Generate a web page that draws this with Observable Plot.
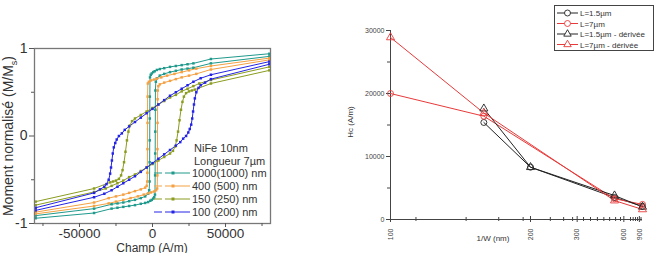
<!DOCTYPE html>
<html><head><meta charset="utf-8">
<script src="https://cdn.jsdelivr.net/npm/d3@7"></script>
<script src="https://cdn.jsdelivr.net/npm/@observablehq/plot@0.6"></script>
<style>
body{margin:0;background:#fff;}
#wrap{position:relative;width:655px;height:253px;overflow:hidden;font-family:"Liberation Sans",Arial,sans-serif;}
#left{position:absolute;left:0;top:0;}
#right{position:absolute;left:280px;top:0;}
</style></head>
<body><div id="wrap"><div id="left"></div><div id="right"></div></div>
<script>
// ================= LEFT PANEL DATA : hysteresis loops (H in A/m, M/Ms) =================
// upper branch: field decreasing ; lower branch: field increasing
const tealUp = [[80000,0.94],[40000,0.88],[28000,0.83],[24000,0.82],[20000,0.81],[16000,0.80],[12000,0.79],[8000,0.775],[5000,0.765],[3000,0.755],[1500,0.74],[500,0.73],[-500,0.715],[-1200,0.70],[-1700,0.67],[-1800,0.45],[-1850,0.20],[-1900,-0.05],[-1950,-0.30],[-2000,-0.52],[-2300,-0.62],[-3000,-0.66],[-5000,-0.69],[-8000,-0.71],[-12000,-0.73],[-16000,-0.745],[-20000,-0.76],[-24000,-0.77],[-28000,-0.78],[-40000,-0.83],[-80000,-0.91]];
const tealDown = [[-80000,-0.94],[-40000,-0.88],[-28000,-0.83],[-24000,-0.82],[-20000,-0.81],[-16000,-0.80],[-12000,-0.79],[-8000,-0.775],[-5000,-0.765],[-3000,-0.755],[-1500,-0.74],[-500,-0.73],[500,-0.715],[1200,-0.70],[1700,-0.67],[1800,-0.45],[1850,-0.20],[1900,0.05],[1950,0.30],[2000,0.52],[2300,0.62],[3000,0.66],[5000,0.69],[8000,0.71],[12000,0.73],[16000,0.745],[20000,0.76],[24000,0.77],[28000,0.78],[40000,0.83],[80000,0.91]];

const orangeUp = [[80000,0.89],[40000,0.80],[30000,0.77],[25000,0.75],[20000,0.73],[15000,0.71],[10000,0.69],[6000,0.67],[3000,0.655],[1000,0.645],[-1000,0.635],[-2500,0.62],[-3200,0.60],[-3350,0.45],[-3400,0.15],[-3450,-0.15],[-3500,-0.42],[-3600,-0.52],[-4000,-0.57],[-5000,-0.59],[-8000,-0.61],[-12000,-0.63],[-16000,-0.65],[-20000,-0.67],[-25000,-0.69],[-30000,-0.71],[-40000,-0.76],[-80000,-0.87]];
const orangeDown = [[-80000,-0.89],[-40000,-0.80],[-30000,-0.77],[-25000,-0.75],[-20000,-0.73],[-15000,-0.71],[-10000,-0.69],[-6000,-0.67],[-3000,-0.655],[-1000,-0.645],[1000,-0.635],[2500,-0.62],[3200,-0.60],[3350,-0.45],[3400,-0.15],[3450,0.15],[3500,0.42],[3600,0.52],[4000,0.57],[5000,0.59],[8000,0.61],[12000,0.63],[16000,0.65],[20000,0.67],[25000,0.69],[30000,0.71],[40000,0.76],[80000,0.87]];

const oliveUp = [[80000,0.79],[40000,0.64],[32000,0.60],[28000,0.57],[24000,0.54],[20000,0.51],[16000,0.47],[12000,0.44],[8000,0.40],[4000,0.36],[0,0.32],[-4000,0.28],[-8000,0.24],[-12000,0.20],[-14000,0.17],[-15500,0.12],[-16500,0.05],[-17500,-0.05],[-18500,-0.18],[-19500,-0.30],[-20500,-0.39],[-21500,-0.45],[-23000,-0.49],[-25000,-0.51],[-27000,-0.52],[-29000,-0.53],[-40000,-0.60],[-80000,-0.75]];
const oliveDown = [[-80000,-0.79],[-40000,-0.64],[-32000,-0.60],[-28000,-0.57],[-24000,-0.54],[-20000,-0.51],[-16000,-0.47],[-12000,-0.44],[-8000,-0.40],[-4000,-0.36],[0,-0.32],[4000,-0.28],[8000,-0.24],[12000,-0.20],[14000,-0.17],[15500,-0.12],[16500,-0.05],[17500,0.05],[18500,0.18],[19500,0.30],[20500,0.39],[21500,0.45],[23000,0.49],[25000,0.51],[27000,0.52],[29000,0.53],[40000,0.60],[80000,0.75]];

const blueUp = [[80000,0.85],[40000,0.70],[33000,0.66],[28000,0.62],[24000,0.58],[20000,0.54],[16000,0.50],[12000,0.46],[8000,0.41],[4000,0.36],[0,0.31],[-4000,0.26],[-8000,0.21],[-12000,0.16],[-16000,0.11],[-19000,0.07],[-21000,0.03],[-23000,0.00],[-24500,-0.04],[-25500,-0.08],[-26500,-0.13],[-27200,-0.20],[-27800,-0.28],[-28400,-0.36],[-29000,-0.43],[-30000,-0.50],[-31500,-0.55],[-33000,-0.58],[-36000,-0.61],[-40000,-0.65],[-80000,-0.82]];
const blueDown = [[-80000,-0.85],[-40000,-0.70],[-33000,-0.66],[-28000,-0.62],[-24000,-0.58],[-20000,-0.54],[-16000,-0.50],[-12000,-0.46],[-8000,-0.41],[-4000,-0.36],[0,-0.31],[4000,-0.26],[8000,-0.21],[12000,-0.16],[16000,-0.11],[19000,-0.07],[21000,-0.03],[23000,0.00],[24500,0.04],[25500,0.08],[26500,0.13],[27200,0.20],[27800,0.28],[28400,0.36],[29000,0.43],[30000,0.50],[31500,0.55],[33000,0.58],[36000,0.61],[40000,0.65],[80000,0.82]];

const leftLabels = ["1000(1000) nm","400 (500) nm","150 (250) nm","100 (200) nm"];
const leftColors = ["#1f9a8c","#f5a142","#8c9c1e","#2424e6"];
const leftYTicks = [-1,0,1];
const leftYMinor = [-0.5,0.5];
const leftXTicks = [-50000,0,50000];
const leftXMinor = [-75000,-25000,25000,75000];

// ================= RIGHT PANEL DATA : Hc vs W =================
const wL15 = [150,200,500,1000];
const hcL15 = [15400,8300,3500,2100];
const hcL15d = [17600,8300,3800,2000];
const wL7 = [100,150,500,1000];
const hcL7 = [20000,16400,3300,2400];
const hcL7d = [28900,16900,3000,1600];
const rightLabels = ["L=1.5µm","L=7µm","L=1.5µm - dérivée","L=7µm - dérivée"];
const rightColors = ["#222222","#e83a3a","#222222","#e83a3a"];
const rightXTicks = [100,200,300,600,900];
const rightXMinor = [110,137,163,190,233,262,286,322,350,383,420,460,510,560,700,750,800,850,950];
const rightYTicks = [0,10000,20000,30000];
const rightYMinor = [5000,15000,25000];

// ---------- build left ----------
const branches = [[tealUp,tealDown],[orangeUp,orangeDown],[oliveUp,oliveDown],[blueUp,blueDown]];
const leftRows = [];
branches.forEach(([up,down],i)=>{
  up.forEach(([H,M])=>leftRows.push({H,M,color:leftColors[i],branch:leftLabels[i]+"u"}));
  down.forEach(([H,M])=>leftRows.push({H,M,color:leftColors[i],branch:leftLabels[i]+"d"}));
});
const fmt = d => String(d);
const FF = "Liberation Sans, Arial, sans-serif";
const leftPlot = Plot.plot({
  width:280, height:253, marginLeft:34, marginRight:10, marginTop:48, marginBottom:30,
  x:{domain:[-80800,80800]}, y:{domain:[-1,1]},
  color:{type:"identity"},
  style:{fontFamily:FF, fontSize:"14px", color:"#333", background:"transparent"},
  marks:[
    Plot.line(leftRows,{x:"H",y:"M",z:"branch",stroke:"color",strokeWidth:1}),
    Plot.dot(leftRows,{x:"H",y:"M",fill:"color",symbol:"square",r:1.4}),
    Plot.frame({stroke:"#777",strokeWidth:1.3}),
    Plot.axisY(leftYTicks,{tickSize:5,tickPadding:2,tickFormat:fmt,label:null,stroke:"#555",fontSize:14}),
    Plot.axisY(leftYMinor,{tickSize:3,text:null,label:null,stroke:"#555"}),
    Plot.axisX(leftXTicks,{tickSize:4,tickPadding:1,tickFormat:fmt,label:null,stroke:"#555",fontSize:13.5}),
    Plot.axisX(leftXMinor,{tickSize:3,text:null,label:null,stroke:"#555"})
  ]
});
document.getElementById("left").appendChild(leftPlot);
{
  const s = d3.select(leftPlot);
  const yl = s.append("text").attr("transform","translate(13,136) rotate(-90)").attr("text-anchor","middle")
    .attr("fill","#333").style("font-size","14px").style("font-family",FF);
  yl.append("tspan").text("Moment normalisé (M/M");
  yl.append("tspan").attr("dy",4).style("font-size","9px").text("s");
  yl.append("tspan").attr("dy",-4).text(")");
  s.append("text").attr("x",152).attr("y",251.5).attr("text-anchor","middle").attr("fill","#333")
    .style("font-size","12px").style("font-family",FF).text("Champ (A/m)");
  const g = s.append("g").attr("text-anchor","start").style("font-family",FF).style("font-size","11px").attr("fill","#333");
  g.append("text").attr("x",194).attr("y",151.5).text("NiFe 10nm");
  g.append("text").attr("x",194).attr("y",164.5).text("Longueur 7µm");
  leftLabels.forEach((lab,i)=>{
    const y = 177 + 13*i;
    g.append("line").attr("x1",154).attr("x2",190).attr("y1",y-4).attr("y2",y-4).attr("stroke",leftColors[i]).attr("stroke-width",1).attr("stroke-dasharray","8,3,30");
    g.append("rect").attr("x",171.5).attr("y",y-5.5).attr("width",3).attr("height",3).attr("fill",leftColors[i]);
    g.append("text").attr("x",192).attr("y",y).text(lab);
  });
}

// ---------- build right ----------
const rightRows = [];
wL15.forEach((w,i)=>rightRows.push({W:w,Hc:hcL15[i],s:0,sym:"circle"}));
wL7.forEach((w,i)=>rightRows.push({W:w,Hc:hcL7[i],s:1,sym:"circle"}));
wL15.forEach((w,i)=>rightRows.push({W:w,Hc:hcL15d[i],s:2,sym:"triangle"}));
wL7.forEach((w,i)=>rightRows.push({W:w,Hc:hcL7d[i],s:3,sym:"triangle"}));
rightRows.forEach(d=>d.color=rightColors[d.s]);
const rightPlot = Plot.plot({
  width:375, height:253, marginLeft:110, marginRight:13, marginTop:30, marginBottom:34,
  x:{type:"pow", exponent:-1, domain:[100,1000]},
  y:{domain:[0,30000]},
  color:{type:"identity"},
  style:{fontFamily:FF, fontSize:"7px", color:"#444", background:"transparent"},
  marks:[
    Plot.ruleX([100],{y1:0,y2:30000,stroke:"#444"}),
    Plot.ruleY([0],{stroke:"#444"}),
    Plot.axisY(rightYTicks,{tickSize:4,tickPadding:2,tickFormat:fmt,label:null,stroke:"#444",fontSize:7}),
    Plot.axisY(rightYMinor,{tickSize:3,text:null,label:null,stroke:"#444"}),
    Plot.axisX(rightXTicks,{tickSize:3,tickPadding:6,tickRotate:-90,tickFormat:fmt,label:null,stroke:"#444",fontSize:7}),
    Plot.axisX(rightXTicks,{tickSize:-3,text:null,label:null,stroke:"#444"}),
    Plot.axisX(rightXMinor,{tickSize:2,text:null,label:null,stroke:"#444"}),
    Plot.axisX(rightXMinor,{tickSize:-2,text:null,label:null,stroke:"#444"}),
    Plot.line(rightRows,{x:"W",y:"Hc",z:"s",stroke:"color",strokeWidth:1}),
    Plot.dot(rightRows,{x:"W",y:"Hc",stroke:"color",symbol:"sym",r:3,strokeWidth:0.9,fill:"none"})
  ]
});
document.getElementById("right").appendChild(rightPlot);
{
  const s = d3.select(rightPlot);
  s.append("text").attr("transform","translate(73,122) rotate(-90)").attr("text-anchor","middle").attr("fill","#333")
    .style("font-size","8px").style("font-family",FF).text("Hc (A/m)");
  s.append("text").attr("x",213).attr("y",241).attr("text-anchor","middle").attr("fill","#333")
    .style("font-size","8px").style("font-family",FF).text("1/W (nm)");
  const g = s.append("g").attr("text-anchor","start").style("font-family",FF).style("font-size","8px").attr("fill","#333");
  g.append("rect").attr("x",274.5).attr("y",5.5).attr("width",99).attr("height",45).attr("fill","white").attr("stroke","#444").attr("stroke-width",1);
  const syms = ["circle","circle","triangle","triangle"];
  rightLabels.forEach((lab,i)=>{
    const y = 16 + 10.5*i;
    g.append("line").attr("x1",277).attr("x2",298).attr("y1",y-3).attr("y2",y-3).attr("stroke",rightColors[i]).attr("stroke-width",1);
    g.append("path").attr("d",d3.symbol(syms[i]==="circle"?d3.symbolCircle:d3.symbolTriangle, syms[i]==="circle"?28:24)())
      .attr("transform",`translate(287.5,${y-3})`).attr("fill","white").attr("stroke",rightColors[i]).attr("stroke-width",0.9);
    g.append("text").attr("x",300).attr("y",y).text(lab);
  });
}
</script></body></html>
